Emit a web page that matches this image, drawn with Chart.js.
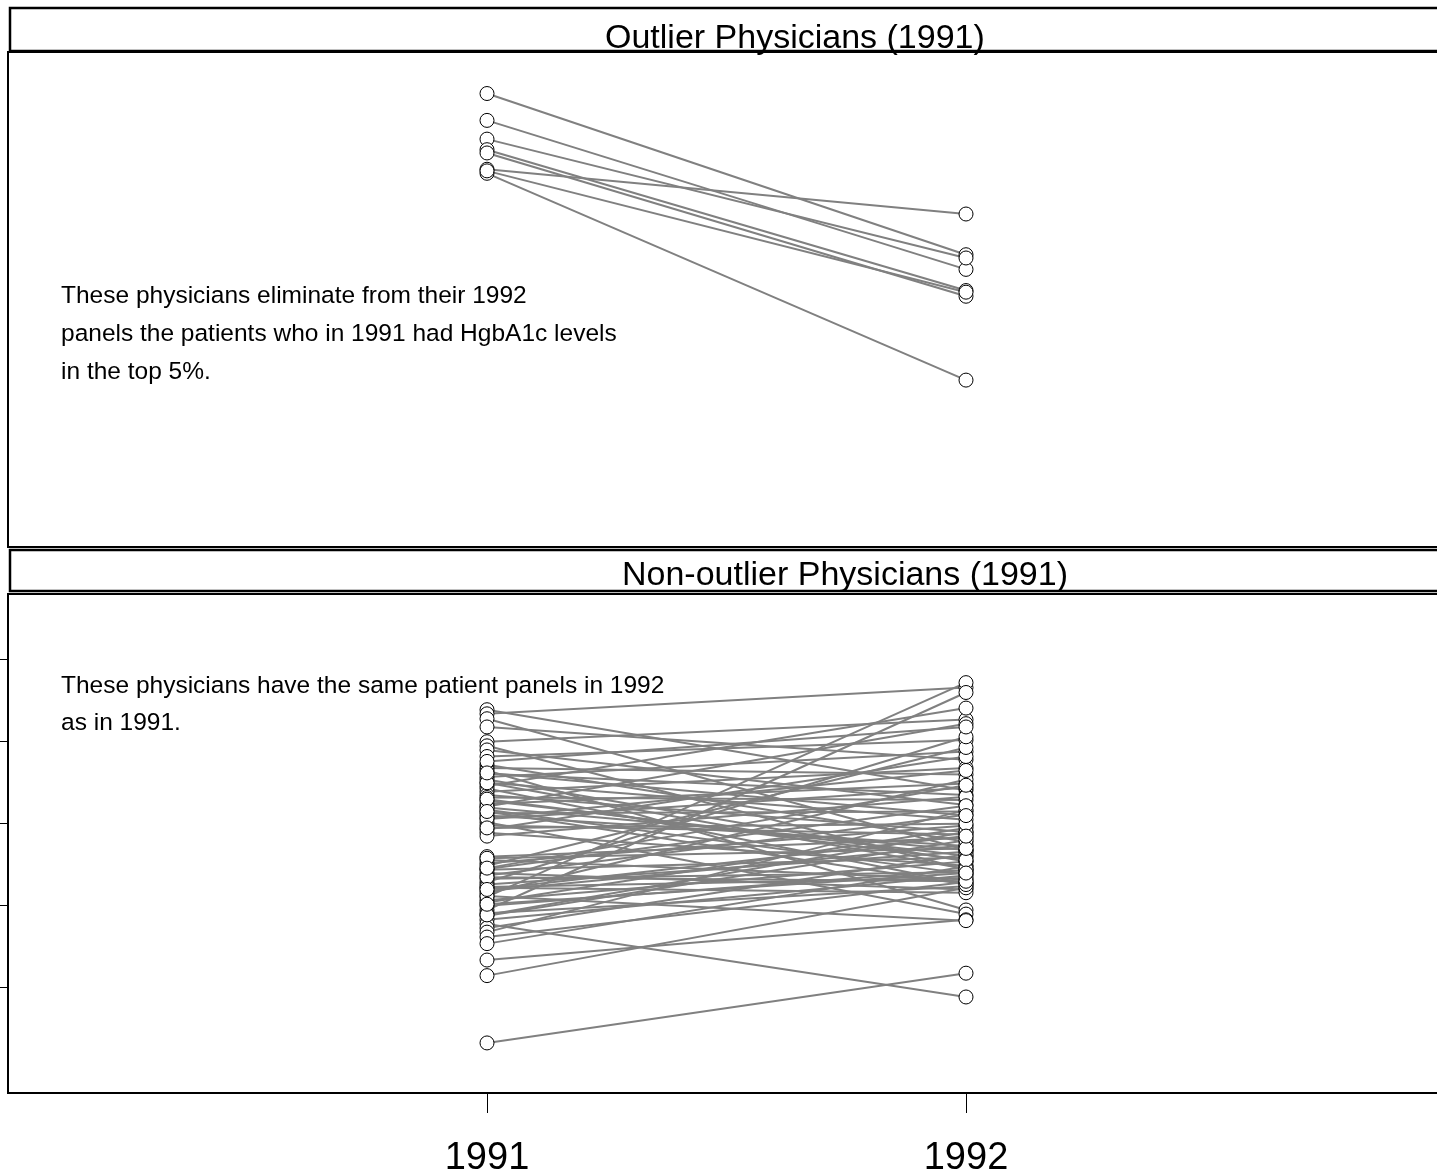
<!DOCTYPE html>
<html>
<head>
<meta charset="utf-8">
<title>HgbA1c by physician, 1991 vs 1992</title>
<script src="https://cdn.jsdelivr.net/npm/chart.js@4/dist/chart.umd.min.js"></script>
<style>
  html, body { margin: 0; padding: 0; background: #fff; overflow: hidden; width: 1437px; height: 1172px; }
  canvas { position: absolute; left: 0; }
  #topPanel { top: 0; width: 1460px; height: 548px; }
  #bottomPanel { top: 548px; width: 1460px; height: 630px; }
</style>
</head>
<body>
<canvas id="topPanel" width="1460" height="548"></canvas>
<canvas id="bottomPanel" width="1460" height="630"></canvas>
<script>
// Years on the horizontal axis
const years = [1991, 1992];

// Mean HgbA1c of each outlier physician's panel
const outlier1991 = [10.29, 9.96, 9.73, 9.60, 9.56, 9.36, 9.31, 9.34];
const outlier1992 = [8.31, 8.13, 8.27, 7.87, 7.80, 8.81, 6.77, 7.85];

// Mean HgbA1c of each non-outlier physician's panel
const nonOutlier1991 = [
  9.39, 9.34, 9.28, 9.18, 9.00, 8.95, 8.90, 8.82, 8.72, 8.68,
  8.65, 8.61, 8.57, 8.54, 8.50, 8.46, 8.43, 8.39, 8.35, 8.32,
  8.28, 8.24, 8.21, 8.17, 8.13, 8.10, 8.06, 8.02, 7.98, 7.93,
  7.89, 7.60, 7.56, 7.52, 7.49, 7.44, 7.40, 7.37, 7.33, 7.29,
  7.26, 7.22, 7.18, 7.15, 7.11, 7.07, 7.04, 7.00, 6.95, 6.91,
  6.88, 6.83, 6.78, 6.73, 6.68, 6.62, 6.54, 6.34, 6.15, 5.33,
  8.76, 7.85, 8.07, 7.45, 7.23, 7.12, 8.20, 6.89, 8.50, 8.30,
  8.15, 7.95, 7.58, 7.35, 7.20, 7.02, 8.62, 7.46
];
const nonOutlier1992 = [
  8.41, 9.66, 7.68, 8.78, 9.27, 7.44, 8.23, 9.02, 7.78, 8.60,
  6.95, 8.35, 8.88, 7.54, 8.05, 9.41, 7.27, 8.68, 7.90, 8.29,
  7.61, 8.49, 9.22, 7.39, 8.15, 7.73, 8.44, 6.90, 7.87, 8.82,
  7.49, 7.83, 7.32, 7.98, 8.93, 7.59, 7.20, 8.11, 7.41, 9.06,
  7.66, 7.16, 7.74, 8.54, 9.72, 7.54, 7.95, 7.44, 9.60, 7.24,
  7.80, 7.37, 5.89, 7.63, 8.17, 7.29, 7.48, 6.83, 7.22, 6.18,
  9.18, 8.33, 8.65, 8.22, 7.34, 6.82, 7.68, 7.90, 7.45, 7.56,
  7.26, 8.00, 7.70, 7.30, 7.85, 7.40, 8.10, 8.47
];

// Tick marks on the vertical axis (labels fall outside the page)
const yTicks = [6, 7, 8, 9, 10];
const yRange = [4.72, 10.8];
const xRange = [1990, 1993];

const FONT = '"Liberation Sans", Arial, Helvetica, sans-serif';

function buildDatasets(start, end) {
  const sets = start.map((v, i) => ({
    data: [{ x: years[0], y: v }, { x: years[1], y: end[i] }],
    borderColor: '#808080',
    borderWidth: 2,
    pointRadius: 0,
    tension: 0,
    order: 1
  }));
  const points = start.map(v => ({ x: years[0], y: v }))
    .concat(end.map(v => ({ x: years[1], y: v })));
  sets.push({
    data: points,
    showLine: false,
    pointRadius: 7,
    pointBackgroundColor: '#ffffff',
    pointBorderColor: '#000000',
    pointBorderWidth: 1,
    order: 0
  });
  return sets;
}

// Panel frame, strip header and the explanatory note
const panelFrame = {
  id: 'panelFrame',
  beforeDatasetsDraw(chart, args, opts) {
    const ctx = chart.ctx;
    ctx.save();
    ctx.fillStyle = '#000';
    ctx.font = '24.5px ' + FONT;
    ctx.textAlign = 'left';
    ctx.textBaseline = 'alphabetic';
    opts.notes.forEach((line, i) => ctx.fillText(line, opts.noteX, opts.noteY + i * opts.noteGap));
    ctx.restore();
  },
  afterDraw(chart, args, opts) {
    const ctx = chart.ctx, a = chart.chartArea;
    ctx.save();
    ctx.strokeStyle = '#000';
    ctx.lineWidth = 2;
    ctx.strokeRect(a.left, a.top, a.right - a.left, a.bottom - a.top);
    const sw = chart.width - opts.stripLeft + 20;
    ctx.fillStyle = '#fff';
    ctx.fillRect(opts.stripLeft, opts.stripTop, sw, opts.stripBottom - opts.stripTop);
    ctx.lineWidth = 2.5;
    ctx.strokeRect(opts.stripLeft, opts.stripTop, sw, opts.stripBottom - opts.stripTop);
    ctx.fillStyle = '#000';
    ctx.font = '34px ' + FONT;
    ctx.textAlign = 'left';
    ctx.textBaseline = 'alphabetic';
    ctx.fillText(opts.title, opts.titleX, opts.titleBaseline);
    ctx.restore();
  }
};

const common = {
  type: 'line',
  plugins: [panelFrame],
};

new Chart(document.getElementById('topPanel'), {
  ...common,
  data: { datasets: buildDatasets(outlier1991, outlier1992) },
  options: {
    responsive: false,
    animation: false,
    layout: { autoPadding: false, padding: { top: 52, left: 8, right: 15, bottom: 1 } },
    plugins: {
      legend: { display: false },
      tooltip: { enabled: false },
      panelFrame: {
        title: 'Outlier Physicians (1991)',
        titleX: 605, titleBaseline: 48,
        stripLeft: 10, stripTop: 8, stripBottom: 51,
        notes: [
          'These physicians eliminate from their 1992',
          'panels the patients who in 1991 had HgbA1c levels',
          'in the top 5%.'
        ],
        noteX: 61, noteY: 303, noteGap: 38
      }
    },
    scales: {
      x: { type: 'linear', display: false, min: xRange[0], max: xRange[1] },
      y: { type: 'linear', display: false, min: yRange[0], max: yRange[1] }
    }
  }
});

new Chart(document.getElementById('bottomPanel'), {
  ...common,
  data: { datasets: buildDatasets(nonOutlier1991, nonOutlier1992) },
  options: {
    responsive: false,
    animation: false,
    layout: { autoPadding: false, padding: { top: 46, left: 0, right: 15, bottom: 0 } },
    plugins: {
      legend: { display: false },
      tooltip: { enabled: false },
      panelFrame: {
        title: 'Non-outlier Physicians (1991)',
        titleX: 622, titleBaseline: 37,
        stripLeft: 10, stripTop: 2, stripBottom: 43,
        notes: [
          'These physicians have the same patient panels in 1992',
          'as in 1991.'
        ],
        noteX: 61, noteY: 145, noteGap: 37
      }
    },
    scales: {
      x: {
        type: 'linear', min: xRange[0], max: xRange[1], position: 'bottom',
        afterBuildTicks: s => { s.ticks = years.map(v => ({ value: v })); },
        afterFit: s => { s.height = 85; },
        grid: { drawOnChartArea: false, drawTicks: true, tickLength: 20, color: '#000', lineWidth: 1 },
        border: { display: false },
        ticks: {
          padding: 23, color: '#000', autoSkip: false, maxRotation: 0,
          font: { family: FONT, size: 38 },
          callback: v => String(v)
        }
      },
      y: {
        type: 'linear', min: yRange[0], max: yRange[1], position: 'left',
        afterBuildTicks: s => { s.ticks = yTicks.map(v => ({ value: v })); },
        grid: { drawOnChartArea: false, drawTicks: true, tickLength: 8, color: '#000', lineWidth: 1 },
        border: { display: false },
        ticks: { display: false }
      }
    }
  }
});
</script>
</body>
</html>
